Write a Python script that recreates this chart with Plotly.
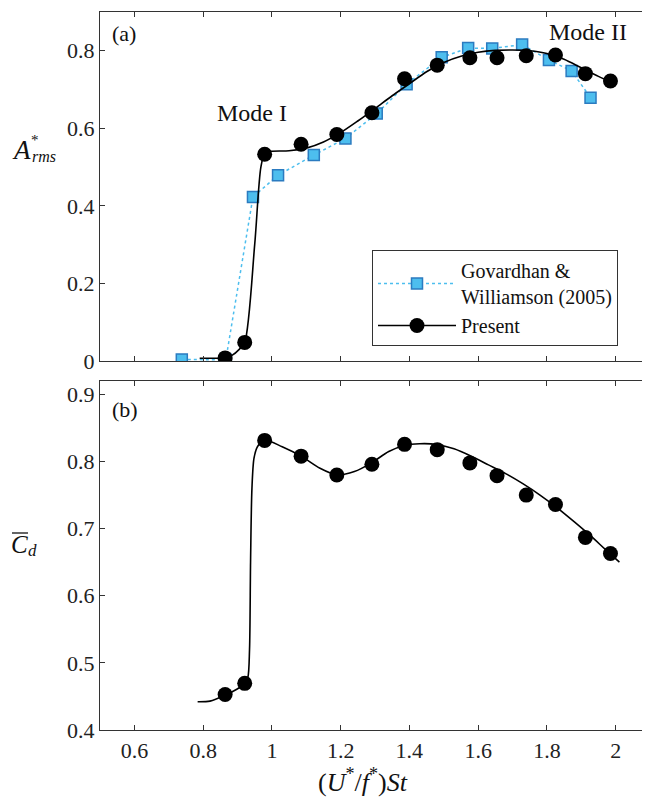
import plotly.graph_objects as go
from plotly.subplots import make_subplots

# ---------------- data ----------------
gw_x = [0.738, 0.866, 0.945, 1.018, 1.122, 1.214, 1.305, 1.392, 1.494, 1.571, 1.641, 1.728, 1.806, 1.872, 1.927]
gw_a = [0.004, 0.003, 0.423, 0.479, 0.531, 0.574, 0.638, 0.714, 0.783, 0.807, 0.806, 0.816, 0.776, 0.748, 0.679]

pr_x = [0.864, 0.921, 0.979, 1.085, 1.189, 1.291, 1.386, 1.481, 1.576, 1.655, 1.740, 1.825, 1.912, 1.985]
pr_a = [0.008, 0.048, 0.533, 0.559, 0.584, 0.640, 0.728, 0.763, 0.782, 0.782, 0.787, 0.789, 0.741, 0.722]
pr_cd = [0.453, 0.4695, 0.8315, 0.808, 0.780, 0.796, 0.8256, 0.8177, 0.798, 0.779, 0.750, 0.736, 0.687, 0.663]

fit_a_x = [0.79, 0.83, 0.864, 0.885, 0.905, 0.921, 0.95, 0.968, 0.98, 1.0, 1.05, 1.1, 1.15, 1.2, 1.25,
           1.3, 1.35, 1.4, 1.45, 1.5, 1.55, 1.6, 1.65, 1.7, 1.75, 1.8, 1.85, 1.9, 1.95, 1.985]
fit_a_y = [0.007, 0.007, 0.008, 0.015, 0.03, 0.048, 0.30, 0.50, 0.537, 0.541, 0.542, 0.549, 0.565, 0.589, 0.619,
           0.651, 0.684, 0.715, 0.746, 0.770, 0.786, 0.796, 0.801, 0.802, 0.800, 0.793, 0.778, 0.756, 0.734, 0.720]

fit_cd_x = [0.784, 0.82, 0.864, 0.905, 0.921, 0.93, 0.935, 0.938, 0.942, 0.948, 0.958, 0.979, 1.03, 1.085,
            1.14, 1.19, 1.24, 1.29, 1.34, 1.386, 1.43, 1.48, 1.53, 1.58, 1.63, 1.68, 1.73, 1.78, 1.83,
            1.88, 1.93, 1.97, 2.011]
fit_cd_y = [0.442, 0.443, 0.452, 0.463, 0.47, 0.478, 0.52, 0.65, 0.76, 0.805, 0.822, 0.832, 0.822, 0.808,
            0.790, 0.780, 0.785, 0.798, 0.815, 0.824, 0.8266, 0.8255, 0.819, 0.808, 0.795, 0.782, 0.767, 0.750, 0.731,
            0.710, 0.688, 0.669, 0.650]

x_ticks = [0.6, 0.8, 1.0, 1.2, 1.4, 1.6, 1.8, 2.0]
x_ticklabels = ["0.6", "0.8", "1", "1.2", "1.4", "1.6", "1.8", "2"]
a_ticks = [0, 0.2, 0.4, 0.6, 0.8]
cd_ticks = [0.4, 0.5, 0.6, 0.7, 0.8, 0.9]

# ---------------- figure ----------------
# the page body adds an 8px offset; compensate so that the window matches 650x802
OFF = 8
W, H = 650 - OFF, 802 - OFF
ml, mr, mt, mb = 100 - OFF, 0, 12 - OFF, 72
pw, ph = W - ml - mr, H - mt - mb
FONT = "Liberation Serif"

fig = make_subplots(rows=2, cols=1, shared_xaxes=False, vertical_spacing=20 / ph)

lightblue = "#4DBEEE"
edgeblue = "#2B7BC0"

fig.add_trace(go.Scatter(x=gw_x, y=gw_a, mode="lines+markers", name="Govardhan &<br>Williamson (2005)",
                         line=dict(color=lightblue, width=1.5, dash="dot"),
                         marker=dict(symbol="square", size=11, color=lightblue,
                                     line=dict(color=edgeblue, width=1.5))), row=1, col=1)
fig.add_trace(go.Scatter(x=fit_a_x, y=fit_a_y, mode="lines", showlegend=False,
                         line=dict(color="black", width=1.6, shape="spline", smoothing=0.8)), row=1, col=1)
fig.add_trace(go.Scatter(x=pr_x, y=pr_a, mode="markers", showlegend=False,
                         marker=dict(symbol="circle", size=15, color="black")), row=1, col=1)
fig.add_trace(go.Scatter(x=[None], y=[None], mode="lines+markers", name="Present",
                         line=dict(color="black", width=1.6),
                         marker=dict(symbol="circle", size=15, color="black")), row=1, col=1)

fig.add_trace(go.Scatter(x=fit_cd_x, y=fit_cd_y, mode="lines", showlegend=False,
                         line=dict(color="black", width=1.6, shape="spline", smoothing=0.8)), row=2, col=1)
fig.add_trace(go.Scatter(x=pr_x, y=pr_cd, mode="markers", showlegend=False,
                         marker=dict(symbol="circle", size=15, color="black")), row=2, col=1)

x_range = [0.5, 0.5 + (pw + 2) / 345.0]
axis_common = dict(showline=True, linecolor="#333333", linewidth=1.3, mirror="ticks",
                   ticks="inside", ticklen=5, tickwidth=1.2, tickcolor="#333333",
                   showgrid=False, zeroline=False, automargin=False,
                   tickfont=dict(family=FONT, size=22, color="#222222"))

fig.update_xaxes(range=x_range, tickvals=x_ticks, ticktext=x_ticklabels, **axis_common)
fig.update_xaxes(showticklabels=False, row=1, col=1)
fig.update_yaxes(range=[0, 0.9], tickvals=a_ticks, row=1, col=1, **axis_common)
fig.update_yaxes(range=[0.4, 0.92], tickvals=cd_ticks, row=2, col=1, **axis_common)

def px(x):
    return (x - OFF - ml) / pw

def py(y):
    return (H - mb - (y - OFF)) / ph

ann = []
def add_text(text, x, y, size=22, xanchor="center"):
    ann.append(dict(text=text, x=px(x), y=py(y), xref="paper", yref="paper", showarrow=False,
                    xanchor=xanchor, yanchor="middle", font=dict(family=FONT, size=size, color="#111111")))

add_text("(a)", 124, 33, 22)
add_text("(b)", 124.5, 409, 22)
add_text("Mode I", 251.5, 113, 24)
add_text("Mode II", 588, 32, 24)
add_text("<i>A</i>", 21, 150, 27)
add_text("*", 35, 140, 15)
add_text("<i>rms</i>", 44, 157, 16)
add_text("<i>C</i>", 19, 544, 25)
add_text("<i>d</i>", 32, 550, 17)
add_text("(<i>U</i><sup>*</sup>/<i>f</i><sup>*</sup>)<i>St</i>", 363, 780, 26)

fig.add_shape(type="line", xref="paper", yref="paper", x0=px(12), x1=px(28), y0=py(533), y1=py(533),
              line=dict(color="#111111", width=1.3))

fig.update_layout(
    width=W, height=H, margin=dict(l=ml, r=mr, t=mt, b=mb, autoexpand=False),
    plot_bgcolor="white", paper_bgcolor="white",
    font=dict(family=FONT, size=20, color="#111111"),
    annotations=ann,
    legend=dict(x=px(372), y=py(250), xanchor="left", yanchor="top",
                bgcolor="white", bordercolor="#333333", borderwidth=1,
                font=dict(family=FONT, size=20, color="#111111"),
                itemwidth=78, tracegroupgap=0, entrywidth=186),
)

fig.write_html("out.html")
